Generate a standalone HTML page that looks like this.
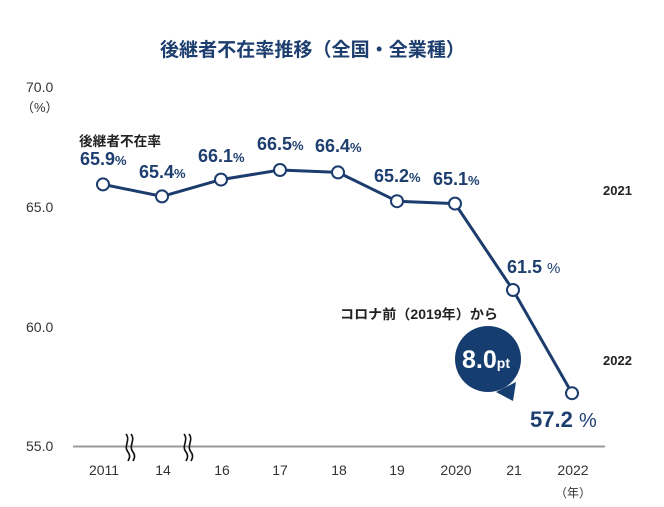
<!DOCTYPE html>
<html><head><meta charset="utf-8">
<style>
html,body{margin:0;padding:0;background:#fff;}
svg{display:block;}
</style></head>
<body>
<svg width="664" height="507" viewBox="0 0 664 507" xmlns="http://www.w3.org/2000/svg" font-family="'Liberation Sans','Noto Sans CJK JP',sans-serif">
<rect width="664" height="507" fill="#fff"/>
<!-- Title -->
<text x="160" y="56" font-size="19" font-weight="bold" fill="#1d3e6e" textLength="305" lengthAdjust="spacingAndGlyphs">後継者不在率推移（全国・全業種）</text>

<!-- Y axis labels -->
<g font-size="14" fill="#333">
<text x="26" y="92">70.0</text>
<text x="21" y="112" font-size="13">（%）</text>
<text x="26" y="212">65.0</text>
<text x="26" y="332">60.0</text>
<text x="26" y="451">55.0</text>
</g>

<!-- axis line -->
<line x1="73" y1="446.5" x2="605" y2="446.5" stroke="#9a9a9a" stroke-width="2"/>
<!-- break marks -->
<g fill="none" stroke="#111" stroke-width="1.6">
<path d="M126 434 C131 440,123 446,128 452 C131 456,129 459,128 461"/>
<path d="M131 434 C136 440,128 446,133 452 C136 456,134 459,133 461"/>
<path d="M184 434 C189 440,181 446,186 452 C189 456,187 459,186 461"/>
<path d="M189 434 C194 440,186 446,191 452 C194 456,192 459,191 461"/>
</g>

<!-- X labels -->
<g font-size="14" fill="#333" text-anchor="middle">
<text x="104" y="475">2011</text>
<text x="163" y="475">14</text>
<text x="222" y="475">16</text>
<text x="280" y="475">17</text>
<text x="339" y="475">18</text>
<text x="397" y="475">19</text>
<text x="456" y="475">2020</text>
<text x="514" y="475">21</text>
<text x="573" y="475">2022</text>
<text x="573" y="497" font-size="12">（年）</text>
</g>

<!-- Series line -->
<polyline fill="none" stroke="#1b3c6d" stroke-width="3" stroke-linejoin="round"
 points="103,184.4 162,196.4 221,179.6 280,170 338,172.4 397,201.2 455,203.6 513,290 572,393.2"/>
<g fill="#fff" stroke="#1b3c6d" stroke-width="2">
<circle cx="103" cy="184.4" r="6"/>
<circle cx="162" cy="196.4" r="6"/>
<circle cx="221" cy="179.6" r="6"/>
<circle cx="280" cy="170" r="6"/>
<circle cx="338" cy="172.4" r="6"/>
<circle cx="397" cy="201.2" r="6"/>
<circle cx="455" cy="203.6" r="6"/>
<circle cx="513" cy="290" r="6"/>
<circle cx="572" cy="393.2" r="6"/>
</g>

<!-- Series label -->
<text x="79" y="146" font-size="13.5" font-weight="bold" fill="#222" textLength="82" lengthAdjust="spacingAndGlyphs">後継者不在率</text>

<!-- Data labels -->
<g font-size="18" font-weight="bold" fill="#1d3e6e">
<text x="80" y="165">65.9<tspan font-size="13">%</tspan></text>
<text x="139" y="178">65.4<tspan font-size="13">%</tspan></text>
<text x="198" y="162">66.1<tspan font-size="13">%</tspan></text>
<text x="257" y="150">66.5<tspan font-size="13">%</tspan></text>
<text x="315" y="152">66.4<tspan font-size="13">%</tspan></text>
<text x="374" y="182">65.2<tspan font-size="13">%</tspan></text>
<text x="433" y="185">65.1<tspan font-size="13">%</tspan></text>
<text x="507" y="273">61.5 <tspan font-size="15" font-weight="normal">%</tspan></text>
<text x="530" y="427" font-size="22">57.2 <tspan font-size="20" font-weight="normal">%</tspan></text>
</g>

<!-- side labels -->
<g font-size="13" font-weight="bold" fill="#222">
<text x="603" y="195">2021</text>
<text x="603" y="365">2022</text>
</g>

<!-- annotation -->
<text x="340" y="319" font-size="13.5" font-weight="bold" fill="#222" textLength="158" lengthAdjust="spacingAndGlyphs">コロナ前（2019年）から</text>

<!-- bubble -->
<circle cx="488" cy="359" r="33" fill="#163d6f"/>
<path d="M496 392 L516 382 L513 401 Z" fill="#163d6f"/>
<text x="462" y="368" font-size="25" font-weight="bold" fill="#fff">8.0<tspan font-size="14">pt</tspan></text>
</svg>
</body></html>
